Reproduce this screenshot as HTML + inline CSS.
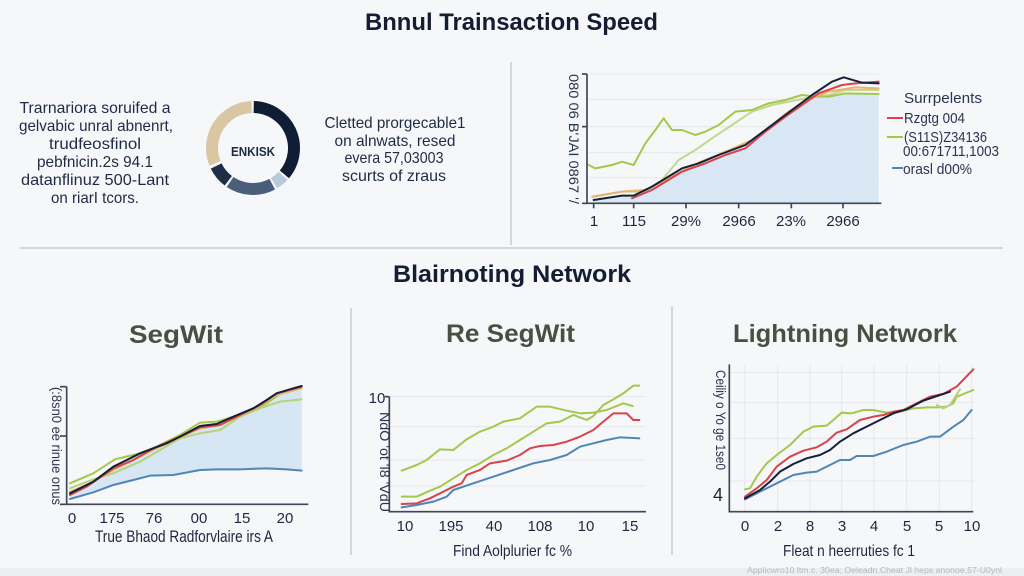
<!DOCTYPE html>
<html><head><meta charset="utf-8"><style>
html,body{margin:0;padding:0;background:#f6f7f9;}
svg{display:block;}
text{font-family:"Liberation Sans",sans-serif;}
</style></head><body>
<svg width="1024" height="576" viewBox="0 0 1024 576" xmlns="http://www.w3.org/2000/svg">
<rect x="0" y="0" width="1024" height="576" fill="#f6f7f9"/>
<rect x="0" y="568" width="1024" height="8" fill="#eceef1"/>

<!-- Titles -->
<text x="365" y="30" font-size="24" font-weight="bold" fill="#151d33" textLength="293" lengthAdjust="spacingAndGlyphs">Bnnul Trainsaction Speed</text>
<text x="393" y="282" font-size="24" font-weight="bold" fill="#151d33" textLength="238" lengthAdjust="spacingAndGlyphs">Blairnoting Network</text>

<!-- dividers -->
<line x1="20" y1="248" x2="1003" y2="248" stroke="#d3d6db" stroke-width="2"/>
<line x1="511" y1="62" x2="511" y2="245" stroke="#d3d6db" stroke-width="2"/>
<line x1="351" y1="308" x2="351" y2="555" stroke="#d3d6db" stroke-width="2"/>
<line x1="672" y1="306" x2="672" y2="555" stroke="#d3d6db" stroke-width="2"/>

<!-- top-left text -->
<g font-size="16" fill="#1f2a44" text-anchor="middle">
<text x="95" y="113" textLength="151" lengthAdjust="spacingAndGlyphs">Trarnariora soruifed a</text>
<text x="96" y="131" textLength="154" lengthAdjust="spacingAndGlyphs">gelvabic unral abnenrt,</text>
<text x="95" y="149" textLength="92" lengthAdjust="spacingAndGlyphs">trudfeosfinol</text>
<text x="95" y="167" textLength="116" lengthAdjust="spacingAndGlyphs">pebfnicin.2s 94.1</text>
<text x="95" y="185" textLength="148" lengthAdjust="spacingAndGlyphs">datanflinuz 500-Lant</text>
<text x="95" y="203" textLength="88" lengthAdjust="spacingAndGlyphs">on riarI tcors.</text>
</g>

<!-- donut -->
<g fill="none" stroke-width="12">
<path d="M253.72,107.01 A41,41 0 0 1 284.41,174.35" stroke="#0f1e35"/>
<path d="M282.99,175.96 A41,41 0 0 1 274.12,183.14" stroke="#b7cadb"/>
<path d="M272.25,184.20 A41,41 0 0 1 230.07,181.99" stroke="#4a5e7c"/>
<path d="M228.33,180.74 A41,41 0 0 1 216.15,165.97" stroke="#1f2e48"/>
<path d="M214.99,163.36 A41,41 0 0 1 251.57,107.03" stroke="#d9c6a3"/>
</g>
<text x="253" y="156" font-size="13" font-weight="bold" fill="#1f2a44" text-anchor="middle" textLength="44" lengthAdjust="spacingAndGlyphs">ENKISK</text>

<!-- middle text -->
<g font-size="16" fill="#1f2a44" text-anchor="middle">
<text x="395" y="128" textLength="141" lengthAdjust="spacingAndGlyphs">Cletted prorgecable1</text>
<text x="395" y="146" textLength="121" lengthAdjust="spacingAndGlyphs">on alnwats, resed</text>
<text x="394" y="163" textLength="99" lengthAdjust="spacingAndGlyphs">evera 57,03003</text>
<text x="394" y="181" textLength="104" lengthAdjust="spacingAndGlyphs">scurts of zraus</text>
</g>

<!-- top right chart -->
<g transform="translate(512,50) scale(0.33333)">
<g stroke="#e5e7eb" stroke-width="3">
<line x1="230" y1="72" x2="1100" y2="72"/>
<line x1="230" y1="148" x2="1100" y2="148"/>
<line x1="230" y1="230" x2="1100" y2="230"/>
<line x1="230" y1="308" x2="1100" y2="308"/>
<line x1="230" y1="383" x2="1100" y2="383"/>
</g>
<polygon fill="#d8e7f3" points="245,452 330,440 365,440 420,412 510,358 560,342 620,318 700,288 760,243 820,198 860,168 900,140 960,138 1030,132 1100,132 1100,460 240,460"/>
<g fill="none" stroke-width="6" stroke-linejoin="round" stroke-linecap="round">
<polyline stroke="#c3d88a" points="240,440 330,425 400,425 450,390 500,330 550,300 600,265 660,225 720,185 780,165 830,155 880,145 950,135 1000,120 1100,120"/>
<polyline stroke="#a3c84b" points="230,345 250,355 300,345 330,335 365,345 400,280 430,240 455,205 480,240 510,240 550,255 580,245 620,225 670,185 720,180 770,160 820,150 870,135 910,140 950,140 1000,130 1100,132"/>
<polyline stroke="#e7b46c" points="245,440 330,425 400,420 480,380 560,338 640,305 720,270 780,225 820,192 880,152 950,125 1030,112 1100,115"/>
<polyline stroke="#d9434a" points="360,445 420,420 510,365 580,340 640,315 700,295 760,245 820,200 870,165 920,130 990,105 1030,100 1100,95"/>
<polyline stroke="#14203a" points="245,450 330,437 365,437 420,410 510,355 560,340 620,315 700,285 760,240 820,195 860,165 900,135 960,95 995,82 1050,98 1100,100"/>
</g>
<g stroke="#3d4656" stroke-width="5" fill="none">
<polyline points="225,72 225,460 1108,460"/>
<line x1="210" y1="72" x2="225" y2="72"/>
<line x1="210" y1="230" x2="225" y2="230"/>
<line x1="210" y1="460" x2="225" y2="460"/>
<line x1="245" y1="460" x2="245" y2="475"/>
<line x1="365" y1="460" x2="365" y2="475"/>
<line x1="522" y1="460" x2="522" y2="475"/>
<line x1="680" y1="460" x2="680" y2="475"/>
<line x1="838" y1="460" x2="838" y2="475"/>
<line x1="993" y1="460" x2="993" y2="475"/>
</g>
</g>
<text transform="translate(569,139) rotate(90)" font-size="14" fill="#2b3550" text-anchor="middle" textLength="130" lengthAdjust="spacingAndGlyphs">080 06 B'JAI 0867 '/</text>
<g font-size="15" fill="#1e2740" text-anchor="middle">
<text x="594" y="226">1</text>
<text x="634" y="226">115</text>
<text x="686" y="226">29%</text>
<text x="739" y="226">2966</text>
<text x="791" y="226">23%</text>
<text x="843" y="226">2966</text>
</g>
<!-- legend -->
<g font-size="15" fill="#2b3550">
<text x="904" y="103" textLength="78" lengthAdjust="spacingAndGlyphs">Surrpelents</text>
<text x="904" y="123" textLength="61" lengthAdjust="spacingAndGlyphs">Rzgtg 004</text>
<text x="904" y="142" textLength="83" lengthAdjust="spacingAndGlyphs">(S11S)Z34136</text>
<text x="903" y="156" textLength="96" lengthAdjust="spacingAndGlyphs">00:671711,1003</text>
<text x="903" y="174" textLength="69" lengthAdjust="spacingAndGlyphs">orasl d00%</text>
</g>
<line x1="887" y1="118" x2="903" y2="118" stroke="#d9434a" stroke-width="2"/>
<line x1="887" y1="137" x2="903" y2="137" stroke="#a3c84b" stroke-width="2"/>
<line x1="892" y1="168" x2="903" y2="168" stroke="#4f86b8" stroke-width="2"/>

<!-- subtitles -->
<g font-size="25" font-weight="bold" fill="#4b4e42">
<text x="129" y="343" textLength="94" lengthAdjust="spacingAndGlyphs">SegWit</text>
<text x="446" y="342" textLength="129" lengthAdjust="spacingAndGlyphs">Re SegWit</text>
<text x="733" y="342" textLength="224" lengthAdjust="spacingAndGlyphs">Lightning Network</text>
</g>

<!-- Panel 1 -->
<g transform="translate(0,240) scale(0.33333)">
<polygon fill="#d6e6f2" points="210,760 280,725 340,680 420,640 500,610 540,590 600,555 650,548 700,530 760,505 800,480 830,460 870,448 905,438 905,692 860,688 800,685 720,688 650,688 600,690 520,705 450,707 400,720 340,735 280,757 210,777"/>
<g fill="none" stroke-width="6" stroke-linejoin="round" stroke-linecap="round">
<polyline stroke="#4f86b8" points="210,777 280,757 340,735 400,720 450,707 520,705 600,690 650,688 720,688 800,685 860,688 905,692"/>
<polyline stroke="#b7d27a" points="210,745 280,718 340,700 420,665 480,630 540,595 600,580 660,570 720,530 780,505 840,485 905,478"/>
<polyline stroke="#a3c84b" points="210,730 280,700 345,658 420,640 470,620 540,585 600,548 650,545 700,530 760,510 800,490 850,455 905,445"/>
<polyline stroke="#e7b46c" points="210,755 270,730 340,690 420,650 480,620 540,592 600,565 660,555 720,528 780,498 830,465 905,445"/>
<polyline stroke="#d9434a" points="210,765 260,740 340,685 400,660 460,625 540,590 600,562 660,555 720,525 780,495 830,460 905,440"/>
<polyline stroke="#14203a" points="210,760 280,725 340,680 420,640 500,610 540,590 600,558 650,552 700,530 760,505 800,480 830,460 870,448 905,438"/>
</g>
<g stroke="#3d4656" stroke-width="5" fill="none">
<polyline points="200,440 200,793 925,793"/>
<line x1="180" y1="440" x2="200" y2="440"/>
<line x1="180" y1="588" x2="200" y2="588"/>
<line x1="180" y1="793" x2="200" y2="793"/>
</g>
</g>
<text transform="translate(52,446) rotate(90)" font-size="14" fill="#2b3550" text-anchor="middle" textLength="118" lengthAdjust="spacingAndGlyphs">(:8sn0 ee rinue onus</text>
<g font-size="15" fill="#1e2740" text-anchor="middle">
<text x="72" y="523">0</text>
<text x="112" y="523">175</text>
<text x="154" y="523">76</text>
<text x="199" y="523">00</text>
<text x="242" y="523">15</text>
<text x="285" y="523">20</text>
</g>
<text x="95" y="542" font-size="17" fill="#1e2740" textLength="178" lengthAdjust="spacingAndGlyphs">True Bhaod Radforvlaire irs A</text>

<!-- Panel 2 -->
<g transform="translate(340,240) scale(0.33333)">
<g stroke="#e5e7eb" stroke-width="3">
<line x1="150" y1="470" x2="918" y2="470"/>
<line x1="150" y1="560" x2="918" y2="560"/>
<line x1="150" y1="660" x2="918" y2="660"/>
<line x1="150" y1="738" x2="918" y2="738"/>
</g>
<g fill="none" stroke-width="6" stroke-linejoin="round" stroke-linecap="round">
<polyline stroke="#a3c84b" points="185,692 230,675 260,660 300,628 340,630 380,598 420,575 460,560 490,545 540,535 590,500 630,500 680,512 720,520 760,518 800,510 850,490 878,498"/>
<polyline stroke="#a3c84b" points="185,770 230,770 270,752 300,740 340,715 380,690 420,670 460,645 500,625 540,600 580,575 620,550 660,545 700,525 740,540 760,528 790,495 820,478 850,460 880,437 898,437"/>
<polyline stroke="#d9434a" points="185,792 230,790 270,775 300,760 340,740 365,730 380,705 420,690 450,670 500,662 540,645 570,625 600,618 640,615 680,605 720,590 760,570 790,545 820,520 860,520 880,540 898,540"/>
<polyline stroke="#4f86b8" points="185,802 230,795 280,785 320,770 340,750 400,730 460,710 520,690 580,670 630,660 680,645 720,620 760,610 800,600 840,592 898,595"/>
</g>
<g stroke="#3d4656" stroke-width="5" fill="none">
<polyline points="148,470 148,815 918,815"/>
<line x1="135" y1="470" x2="148" y2="470"/>
</g>
</g>
<text transform="translate(380,462) rotate(90)" font-size="14" fill="#2b3550" text-anchor="middle" textLength="100" lengthAdjust="spacingAndGlyphs">NdO 'ot 'l8 'VdU</text>
<text x="377" y="403" font-size="15" fill="#1e2740" text-anchor="middle">10</text>
<g font-size="15" fill="#1e2740" text-anchor="middle">
<text x="405" y="531">10</text>
<text x="451" y="531">195</text>
<text x="494" y="531">40</text>
<text x="540" y="531">108</text>
<text x="586" y="531">10</text>
<text x="630" y="531">15</text>
</g>
<text x="453" y="556" font-size="16" fill="#1e2740" textLength="119" lengthAdjust="spacingAndGlyphs">Find Aolplurier fc %</text>

<!-- Panel 3 -->
<g transform="translate(670,240) scale(0.33333)">
<g stroke="#e5e7eb" stroke-width="3">
<line x1="225" y1="373" x2="225" y2="815"/>
<line x1="323" y1="373" x2="323" y2="815"/>
<line x1="420" y1="373" x2="420" y2="815"/>
<line x1="515" y1="373" x2="515" y2="815"/>
<line x1="612" y1="373" x2="612" y2="815"/>
<line x1="710" y1="373" x2="710" y2="815"/>
<line x1="808" y1="373" x2="808" y2="815"/>
<line x1="905" y1="373" x2="905" y2="815"/>
<line x1="178" y1="397" x2="915" y2="397"/>
<line x1="178" y1="487" x2="915" y2="487"/>
<line x1="178" y1="595" x2="915" y2="595"/>
<line x1="178" y1="723" x2="915" y2="723"/>
</g>
<g fill="none" stroke-width="6" stroke-linejoin="round" stroke-linecap="round">
<polyline stroke="#a3c84b" points="225,748 240,745 260,710 290,670 320,645 360,615 400,575 430,560 470,557 490,540 515,518 545,520 580,510 610,510 650,518 690,515 730,505 770,502 800,502 830,500 850,490 860,470 880,462 910,450"/>
<polyline stroke="#b7d27a" points="800,495 820,505 840,495 870,448"/>
<polyline stroke="#4f86b8" points="225,778 270,755 320,730 370,705 410,698 440,695 470,680 510,660 540,660 560,648 610,648 650,635 700,615 740,605 780,590 810,590 850,560 880,540 905,510"/>
<polyline stroke="#d9434a" points="225,770 260,745 290,720 320,680 360,650 400,632 440,622 470,605 500,578 530,568 570,540 610,530 640,525 670,515 700,510 740,490 780,470 820,462 860,440 910,388"/>
<polyline stroke="#14203a" points="225,775 270,750 300,725 330,695 370,672 410,655 450,645 480,630 510,605 550,580 590,560 630,540 670,520 710,508 760,482 810,465 840,455"/>
</g>
<g stroke="#3d4656" stroke-width="5" fill="none">
<polyline points="178,373 178,815 910,815"/>
</g>
</g>
<text transform="translate(716,420) rotate(90)" font-size="14" fill="#2b3550" text-anchor="middle" textLength="100" lengthAdjust="spacingAndGlyphs">Ceiliy o Yo ge 1se0</text>
<text x="718" y="501" font-size="18" fill="#1e2740" text-anchor="middle">4</text>
<g font-size="15" fill="#1e2740" text-anchor="middle">
<text x="745" y="531">0</text>
<text x="778" y="531">2</text>
<text x="810" y="531">8</text>
<text x="842" y="531">3</text>
<text x="874" y="531">4</text>
<text x="907" y="531">5</text>
<text x="939" y="531">5</text>
<text x="972" y="531">10</text>
</g>
<text x="783" y="556" font-size="16" fill="#1e2740" textLength="132" lengthAdjust="spacingAndGlyphs">Fleat n heerruties fc 1</text>
<text x="747" y="573" font-size="8" fill="#b3b7be" textLength="255" lengthAdjust="spacingAndGlyphs">Applicwro10 ltm.c. 30ea; Oeleadn.Cheat Jl heps anonoe.57-U0ynl</text>
</svg>
</body></html>
